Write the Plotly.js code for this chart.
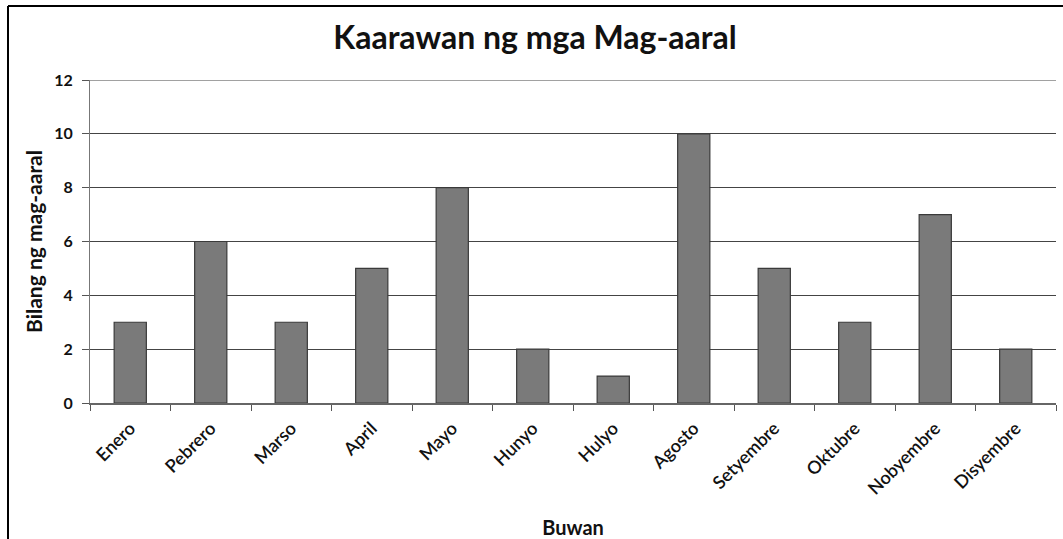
<!DOCTYPE html>
<html>
<head>
<meta charset="utf-8">
<script src="https://cdn.plot.ly/plotly-3.0.1.min.js"></script>
<style>
html,body{margin:0;padding:0;background:#fff;}
#chart{width:1063px;height:539px;}
</style>
</head>
<body>
<div id="chart"></div>
<script>
const months = ["Enero","Pebrero","Marso","April","Mayo","Hunyo","Hulyo","Agosto","Setyembre","Oktubre","Nobyembre","Disyembre"];
const students = [3,6,3,5,8,2,1,10,5,3,7,2];
const yTicks = [0,2,4,6,8,10,12];

const W = 1063, H = 539;
const m = {l:90, r:7, t:80, b:136};
const pw = W - m.l - m.r, ph = H - m.t - m.b;
const px = v => (v - m.l) / pw;
const py = v => 1 - (v - m.t) / ph;
const FONT = "Lato, 'Open Sans', sans-serif";

const trace = {
  type: "bar",
  x: months,
  y: students,
  marker: {color: "#7a7a7a", line: {color: "#3a3a3a", width: 1.2}},
  hoverinfo: "x+y"
};

const layout = {
  width: W, height: H,
  margin: m,
  paper_bgcolor: "#ffffff",
  plot_bgcolor: "#ffffff",
  bargap: 0.6,
  showlegend: false,
  font: {family: FONT, color: "#111"},
  title: {
    text: "Kaarawan ng mga Mag-aaral",
    font: {size: 32, color: "#111", family: FONT, weight: 700},
    x: 535 / W, xref: "container", xanchor: "center",
    y: 1 - 38/H, yref: "container", yanchor: "middle"
  },
  xaxis: {
    type: "category",
    tickson: "boundaries",
    ticks: "outside", ticklen: 6, tickcolor: "#555", tickwidth: 1,
    tickangle: -45,
    ticklabelstandoff: 6,
    tickfont: {size: 18, color: "#111", family: FONT, weight: 600},
    showline: true, linecolor: "#666", linewidth: 1.5,
    showgrid: false,
    title: {text: "Buwan", font: {size: 20, color: "#111", weight: 700}, standoff: 31}
  },
  yaxis: {
    range: [0, 12],
    tickvals: yTicks,
    ticktext: yTicks.map(String),
    ticks: "outside", ticklen: 7, tickcolor: "#555",
    ticklabelstandoff: 6,
    tickfont: {size: 16, color: "#111", weight: 700},
    showline: true, linecolor: "#777", linewidth: 1,
    showgrid: true, gridcolor: "#444", gridwidth: 1.2,
    zeroline: false,
    title: {text: "Bilang ng mag-aaral", font: {size: 21, color: "#111", weight: 700}, standoff: 5}
  },
  shapes: [
    {type: "line", xref: "paper", yref: "y", x0: 0, x1: 1, y0: 12, y1: 12, line: {color: "#444", width: 1.2}},
    {type: "line", xref: "paper", yref: "paper", x0: px(8), x1: px(1063), y0: py(6), y1: py(6), line: {color: "#000", width: 2}},
    {type: "line", xref: "paper", yref: "paper", x0: px(8), x1: px(8), y0: py(6), y1: py(539), line: {color: "#000", width: 2}}
  ]
};

Plotly.newPlot("chart", [trace], layout, {displayModeBar: false, responsive: false});
</script>
</body>
</html>
